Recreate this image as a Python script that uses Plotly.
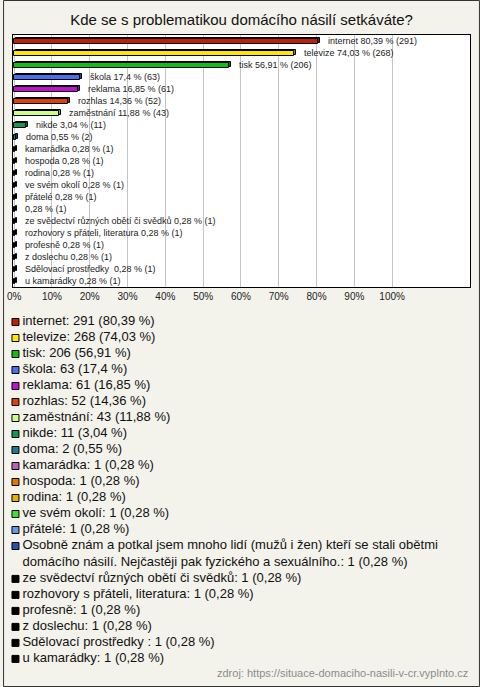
import textwrap
import plotly.graph_objects as go

# ---------------- data ----------------
title_text = "Kde se s problematikou domácího násilí setkáváte?"
source_text = "zdroj: https://situace-domaciho-nasili-v-cr.vyplnto.cz"

categories = [
    "internet", "televize", "tisk", "škola", "reklama", "rozhlas", "zaměstnání",
    "nikde", "doma", "kamarádka", "hospoda", "rodina", "ve svém okolí", "přátelé",
    "Osobně znám a potkal jsem mnoho lidí (mužů i žen) kteří se stali obětmi "
    "domácího násilí. Nejčastěji pak fyzického a sexuálního.",
    "ze svědectví různých obětí či svědků", "rozhovory s přáteli, literatura",
    "profesně", "z doslechu", "Sdělovací prostředky ", "u kamarádky",
]
# names shown next to the bars (the long answer is shown without its name)
bar_names = [
    "internet", "televize", "tisk", "škola", "reklama", "rozhlas", "zaměstnání",
    "nikde", "doma", "kamarádka", "hospoda", "rodina", "ve svém okolí", "přátelé",
    "", "ze svědectví různých obětí či svědků", "rozhovory s přáteli, literatura",
    "profesně", "z doslechu", "Sdělovací prostředky ", "u kamarádky",
]
counts = [291, 268, 206, 63, 61, 52, 43, 11, 2, 1, 1, 1, 1, 1, 1, 1, 1, 1, 1, 1, 1]
percents = [80.39, 74.03, 56.91, 17.4, 16.85, 14.36, 11.88, 3.04, 0.55, 0.28, 0.28,
            0.28, 0.28, 0.28, 0.28, 0.28, 0.28, 0.28, 0.28, 0.28, 0.28]
colors = ["#C01E08", "#FFE800", "#12BE12", "#4A6EF0", "#C010D0", "#E04008",
          "#CCFF88", "#109858", "#207890", "#B860B8", "#E07800", "#E8B000",
          "#40E030", "#6898E8", "#2850B0", "#000000", "#000000", "#000000",
          "#000000", "#000000", "#000000"]
tick_values = [0, 10, 20, 30, 40, 50, 60, 70, 80, 90, 100]
tick_labels = ["0%", "10%", "20%", "30%", "40%", "50%", "60%", "70%", "80%", "90%", "100%"]

# ---------------- helpers ----------------
def fmt(v):
    return str(v).replace(".", ",")

def darker(hex_color, f=0.6):
    h = hex_color.lstrip("#")
    r, g, b = (int(h[i:i + 2], 16) for i in (0, 2, 4))
    return "rgb(%d,%d,%d)" % (r * f, g * f, b * f)

n = len(categories)
idx = list(range(n))
FONT = "Liberation Sans, Arial, sans-serif"
BG = "#F3F2EB"

W, H = 480, 687
M_L, M_R, M_T, M_B = 10, 10, 35, 7
paper_h = H - M_T - M_B
plot_bottom_px = 287
main_dom_bottom = 1 - (plot_bottom_px - M_T) / paper_h
leg_dom_top = 0.58
leg_top_px = M_T + (1 - leg_dom_top) * paper_h

fig = go.Figure()

# back (depth) face of the bars
fig.add_trace(go.Bar(
    y=idx, x=percents, base=0.5, orientation="h",
    width=0.42, offset=-0.29,
    marker=dict(color=[darker(c) for c in colors], line=dict(color="#000", width=1)),
    hoverinfo="skip", showlegend=False,
))
# front face of the bars
fig.add_trace(go.Bar(
    y=idx, x=percents, base=0, orientation="h",
    width=0.42, offset=-0.13,
    marker=dict(color=colors, line=dict(color="#000", width=1)),
    hoverinfo="skip", showlegend=False,
))

# bar labels
annotations = []
for i, (nm, p, c) in enumerate(zip(bar_names, percents, counts)):
    annotations.append(dict(
        x=p, y=i, xref="x", yref="y", xanchor="left", yanchor="middle",
        xshift=8, showarrow=False,
        text=f"{nm} {fmt(p)} % ({c})".strip(),
        font=dict(family=FONT, size=9, color="#222"),
    ))

# custom legend (drawn on a pixel-scaled helper axis)
LEG_Y0, LEG_STEP, LEG_FONT = 322, 16.0, 13
LINE_H = LEG_FONT * 1.3
mk_y, txt_y, txt = [], [], []
y = LEG_Y0
for cat, c, p in zip(categories, counts, percents):
    label = f"{cat}: {c} ({fmt(p)} %)"
    lines = textwrap.wrap(label, 72)
    extra = (len(lines) - 1) * LINE_H
    mk_y.append(y)
    txt_y.append(y + extra / 2)
    txt.append("<br>".join(lines))
    y += LEG_STEP + extra

fig.add_trace(go.Scatter(
    x=[12.5] * n, y=mk_y, xaxis="x2", yaxis="y2", mode="markers",
    marker=dict(symbol="square", size=7, color=colors, line=dict(color="#000", width=1)),
    hoverinfo="skip", showlegend=False, cliponaxis=False,
))
fig.add_trace(go.Scatter(
    x=[19.5] * len(txt), y=txt_y, xaxis="x2", yaxis="y2", mode="text",
    text=txt, textposition="middle right",
    textfont=dict(family=FONT, size=LEG_FONT, color="#111"),
    hoverinfo="skip", showlegend=False, cliponaxis=False,
))

annotations.append(dict(
    x=1, xref="paper", xanchor="right",
    y=(H - M_B - 673) / paper_h, yref="paper", yanchor="middle",
    text=source_text, showarrow=False,
    font=dict(family=FONT, size=11, color="#8C8C8C"),
))

fig.update_layout(
    width=W, height=H,
    margin=dict(l=M_L, r=M_R, t=M_T, b=M_B, pad=0),
    paper_bgcolor=BG, plot_bgcolor="rgba(0,0,0,0)",
    barmode="overlay", bargap=0, showlegend=False,
    title=dict(text=title_text, x=0.5, xanchor="center", xref="paper",
               y=1 - 20 / H, yanchor="middle", yref="container",
               font=dict(family=FONT, size=15, color="#111")),
    xaxis=dict(domain=[0, 1], anchor="y", range=[-0.3, 120.6],
               tickvals=tick_values, ticktext=tick_labels, ticks="",
               tickfont=dict(family=FONT, size=10, color="#222"),
               showgrid=True, gridcolor="#C4C4C4", gridwidth=1, zeroline=False,
               showline=True, mirror=True, linecolor="#000", linewidth=1,
               fixedrange=True),
    yaxis=dict(domain=[main_dom_bottom, 1], anchor="x", range=[n - 0.5, -0.5],
               showticklabels=False, ticks="", showgrid=False, zeroline=False,
               showline=True, mirror=True, linecolor="#000", linewidth=1,
               fixedrange=True),
    xaxis2=dict(domain=[0, 1], anchor="y2", range=[M_L, W - M_R], visible=False,
                fixedrange=True),
    yaxis2=dict(domain=[0, leg_dom_top], anchor="x2",
                range=[H - M_B, leg_top_px], visible=False, fixedrange=True),
    annotations=annotations,
    shapes=[
        dict(type="rect", xref="x domain", yref="y domain", x0=0, x1=1, y0=0, y1=1,
             fillcolor="#FFFFFF", line=dict(width=0), layer="below"),
        dict(type="rect", xref="paper", yref="paper",
             x0=-(M_L - 0.5) / (W - M_L - M_R), x1=1 + (M_R - 0.5) / (W - M_L - M_R),
             y0=-(M_B - 0.5) / paper_h, y1=1 + (M_T - 0.5) / paper_h,
             line=dict(color="#333", width=1), fillcolor="rgba(0,0,0,0)", layer="above"),
    ],
)

fig.write_html("out.html", config={"displayModeBar": False},
               post_script="document.body.style.margin='0px';document.body.style.overflow='hidden';")
